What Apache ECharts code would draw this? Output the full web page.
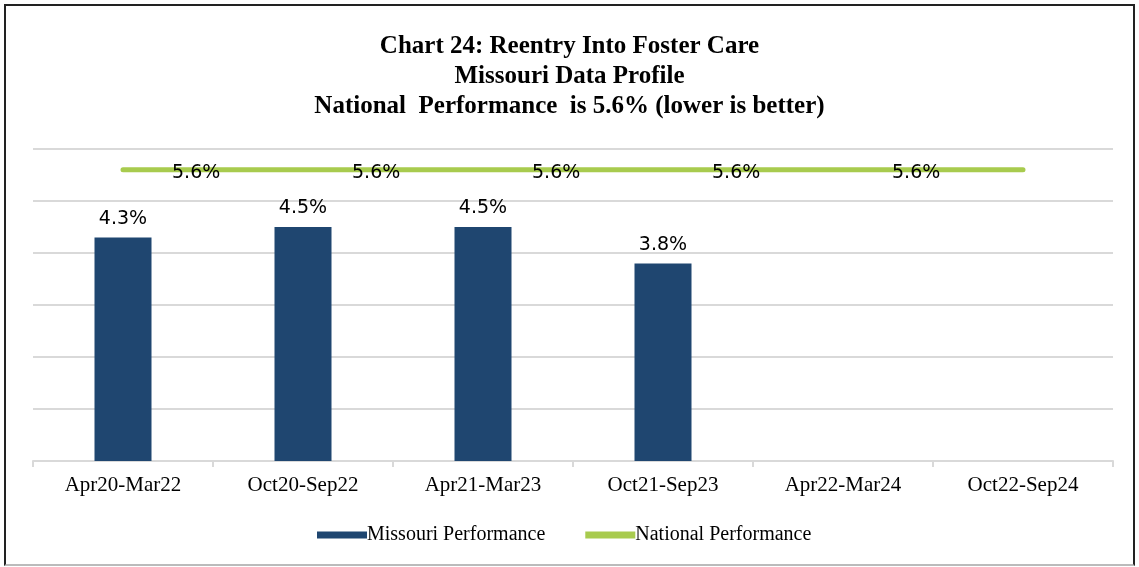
<!DOCTYPE html>
<html>
<head>
    <meta charset="utf-8">
    <title>Chart 24: Reentry Into Foster Care</title>
    <script src="https://cdn.jsdelivr.net/npm/echarts@6/dist/echarts.min.js"></script>
    <style>
        html, body { margin: 0; padding: 0; background: #fff; }
        #frame {
            position: absolute; left: 4px; top: 4px; width: 1127px; height: 558px;
            border: 2px solid #222; border-bottom-color: #bbb;
            box-sizing: content-box; pointer-events: none;
        }
        #main { position: absolute; left: 0; top: 0; width: 1139px; height: 567px; }
    </style>
</head>
<body>
<div id="main"></div>
<div id="frame"></div>

<script type="text/javascript">
    // data
    var categories = ['Apr20-Mar22', 'Oct20-Sep22', 'Apr21-Mar23', 'Oct21-Sep23', 'Apr22-Mar24', 'Oct22-Sep24'];
    var missouri = [4.3, 4.5, 4.5, 3.8, null, null];
    var national = [5.6, 5.6, 5.6, 5.6, 5.6, 5.6];
    var titleLines = [
        'Chart 24: Reentry Into Foster Care',
        'Missouri Data Profile',
        'National  Performance  is 5.6% (lower is better)'
    ];

    var serif = '"Liberation Serif", "Times New Roman", serif';
    var sans = '"DejaVu Sans", Tahoma, sans-serif';
    var green = '#a8cb4e';

    var myChart = echarts.init(document.getElementById('main'), null, { renderer: 'canvas' });

    function pct(p) { return p.value.toFixed(1) + '%'; }

    var option = {
        animation: false,
        title: {
            text: titleLines.join('\n'),
            left: 'center',
            top: 27,
            textStyle: {
                fontFamily: serif,
                fontWeight: 'bold',
                fontSize: 25,
                lineHeight: 30,
                color: '#000'
            }
        },
        legend: {
            bottom: 17,
            left: 312,
            itemGap: 40,
            itemWidth: 50,
            itemHeight: 7,
            textStyle: { fontFamily: serif, fontSize: 20, color: '#000', padding: [0, 0, 0, -5] },
            data: [
                { name: 'Missouri Performance', icon: 'rect' },
                { name: 'National Performance', icon: 'rect', itemStyle: { color: green, opacity: 1 } }
            ]
        },
        grid: { left: 33, right: 26, top: 149, bottom: 106 },
        xAxis: {
            type: 'category',
            data: categories,
            axisLine: { lineStyle: { color: '#d9d9d9', width: 2 } },
            axisTick: { show: true, length: 6, lineStyle: { color: '#d9d9d9', width: 2 } },
            axisLabel: { fontFamily: serif, fontSize: 21, color: '#000', margin: 14 }
        },
        yAxis: {
            type: 'value',
            min: 0,
            max: 6,
            interval: 1,
            axisLabel: { show: false },
            axisLine: { show: false },
            axisTick: { show: false },
            splitLine: { lineStyle: { color: '#d9d9d9', width: 2 } }
        },
        series: [
            {
                name: 'Missouri Performance',
                type: 'bar',
                data: missouri,
                barWidth: 57,
                itemStyle: { color: '#1f4670' },
                label: {
                    show: true,
                    position: 'top',
                    distance: 9,
                    fontFamily: sans,
                    fontSize: 19,
                    color: '#000',
                    formatter: pct
                }
            },
            {
                name: 'National Performance',
                type: 'line',
                data: national.map(function (v, i) {
                    return i === national.length - 1 ? { value: v, label: { show: false } } : v;
                }),
                symbol: 'circle',
                symbolSize: 2,
                showSymbol: true,
                showAllSymbol: true,
                lineStyle: { color: green, width: 5, cap: 'round' },
                itemStyle: { color: green },
                label: {
                    show: true,
                    position: 'right',
                    distance: 48,
                    offset: [0, 3],
                    fontFamily: sans,
                    fontSize: 19,
                    color: '#000',
                    formatter: pct
                },
                z: 3
            }
        ]
    };

    myChart.setOption(option);
    window.addEventListener('resize', myChart.resize);
</script>
</body>
</html>
